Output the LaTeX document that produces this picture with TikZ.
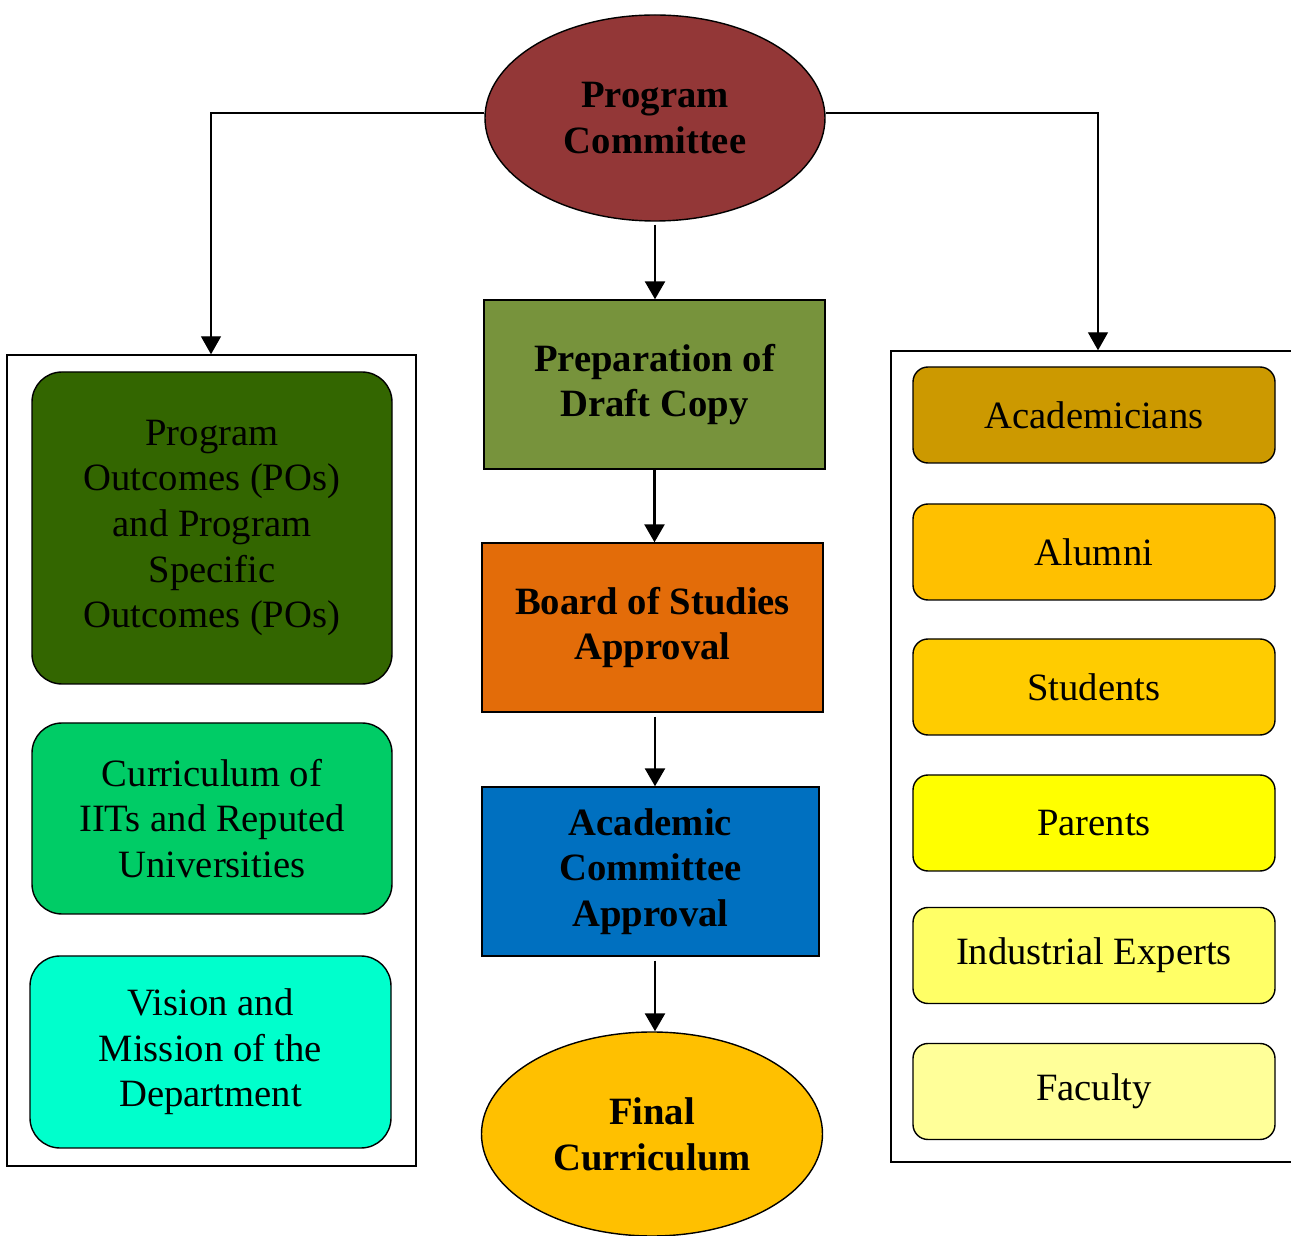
\documentclass[tikz,border=0pt]{standalone}
\usepackage{fontspec}
\setmainfont{Liberation Serif}
\definecolor{committeered}{RGB}{147,55,55}
\definecolor{draftgreen}{RGB}{119,147,60}
\definecolor{boardorange}{RGB}{227,108,9}
\definecolor{academicblue}{RGB}{0,112,192}
\definecolor{finalgold}{RGB}{255,192,0}
\definecolor{poGreen}{RGB}{51,102,0}
\definecolor{iitGreen}{RGB}{0,204,102}
\definecolor{visionAqua}{RGB}{0,255,204}
\definecolor{academicianGold}{RGB}{204,153,0}
\definecolor{alumniGold}{RGB}{255,192,0}
\definecolor{studentGold}{RGB}{255,204,0}
\definecolor{parentYellow}{RGB}{255,255,0}
\definecolor{expertYellow}{RGB}{255,255,102}
\definecolor{facultyYellow}{RGB}{255,255,153}
\usetikzlibrary{shapes,arrows.meta,positioning,calc}

\tikzset{
  txt/.style={font=\fontsize{22}{26}\selectfont, text=black, align=center},
  oval/.style={txt, ellipse, draw=black, line width=0.8pt, inner sep=0pt,
    font=\fontsize{22}{26}\selectfont\bfseries},
  stage/.style={txt, rectangle, draw=black, line width=0.8pt, inner sep=0pt,
    minimum height=3.38cm, font=\fontsize{22}{26}\selectfont\bfseries},
  group/.style={rectangle, draw=black, line width=0.8pt, minimum width=8.18cm,
    minimum height=16.22cm},
  inbox/.style={txt, rectangle, rounded corners=0.6cm, draw=black, line width=0.8pt,
    minimum width=7.2cm, inner sep=0pt},
  party/.style={txt, rectangle, rounded corners=0.3cm, draw=black, line width=0.8pt,
    minimum width=7.24cm, minimum height=1.92cm, inner sep=0pt},
  flow/.style={line width=1.5pt, -{Triangle[length=0.36cm,width=0.4cm]}},
  feed/.style={line width=0.8pt, -{Triangle[length=0.36cm,width=0.4cm]}}
}

\begin{document}
\begin{tikzpicture}
  \useasboundingbox (0,0) rectangle (25.82,-24.72);

  % centre column
  \node[oval, fill=committeered, minimum width=6.8cm, minimum height=4.12cm]
    (pc) at (13.1,-2.36) {Program\\Committee};
  \node[stage, fill=draftgreen, minimum width=6.82cm]
    (draft) at (13.09,-7.69) {Preparation of\\Draft Copy};
  \node[stage, fill=boardorange, minimum width=6.82cm]
    (bos) at (13.05,-12.55) {Board of Studies\\Approval};
  \node[stage, fill=academicblue, minimum width=6.74cm]
    (acc) at (13.01,-17.43) {Academic\\Committee\\Approval};
  \node[oval, fill=finalgold, minimum width=6.82cm, minimum height=4.08cm]
    (final) at (13.04,-22.68) {Final\\Curriculum};

  % left group
  \node[group] (leftgrp) at (4.23,-15.21) {};
  \node[inbox, fill=poGreen, minimum height=6.24cm]
    (pos) at (4.24,-10.56) {Program\\Outcomes (POs)\\and Program\\Specific\\Outcomes (POs)};
  \node[inbox, fill=iitGreen, minimum height=3.82cm]
    (iit) at (4.24,-16.37) {Curriculum of\\IITs and Reputed\\Universities};
  \node[inbox, fill=visionAqua, minimum width=7.22cm, minimum height=3.84cm]
    (vision) at (4.21,-21.04) {Vision and\\Mission of the\\Department};

  % right group
  \node[group, minimum width=8.38cm] (rightgrp) at (22.01,-15.13) {};
  \node[party, fill=academicianGold] (acad) at (21.88,-8.3) {Academicians};
  \node[party, fill=alumniGold] (alumni) at (21.88,-11.04) {Alumni};
  \node[party, fill=studentGold] (students) at (21.88,-13.74) {Students};
  \node[party, fill=parentYellow] (parents) at (21.88,-16.46) {Parents};
  \node[party, fill=expertYellow] (experts) at (21.88,-19.11) {Industrial Experts};
  \node[party, fill=facultyYellow] (faculty) at (21.88,-21.83) {Faculty};

  % connectors
  \coordinate (lturn) at (4.22,-2.26);
  \coordinate (rturn) at (21.96,-2.26);
  \draw[feed] (pc.west |- lturn) -- (lturn) -- (lturn |- leftgrp.north);
  \draw[feed] (pc.east |- rturn) -- (rturn) -- (rturn |- rightgrp.north);
  \draw[flow] (pc.south) ++(0,-0.06) coordinate (pcs) -- (pcs |- draft.north);
  \draw[flow] (draft.south) -- (draft.south |- bos.north);
  \draw[flow] ($(bos.south)+(0.05,-0.08)$) coordinate (boss) -- (boss |- acc.north);
  \draw[flow] ($(acc.south)+(0.09,-0.08)$) coordinate (accs) -- (accs |- final.north);
\end{tikzpicture}
\end{document}
